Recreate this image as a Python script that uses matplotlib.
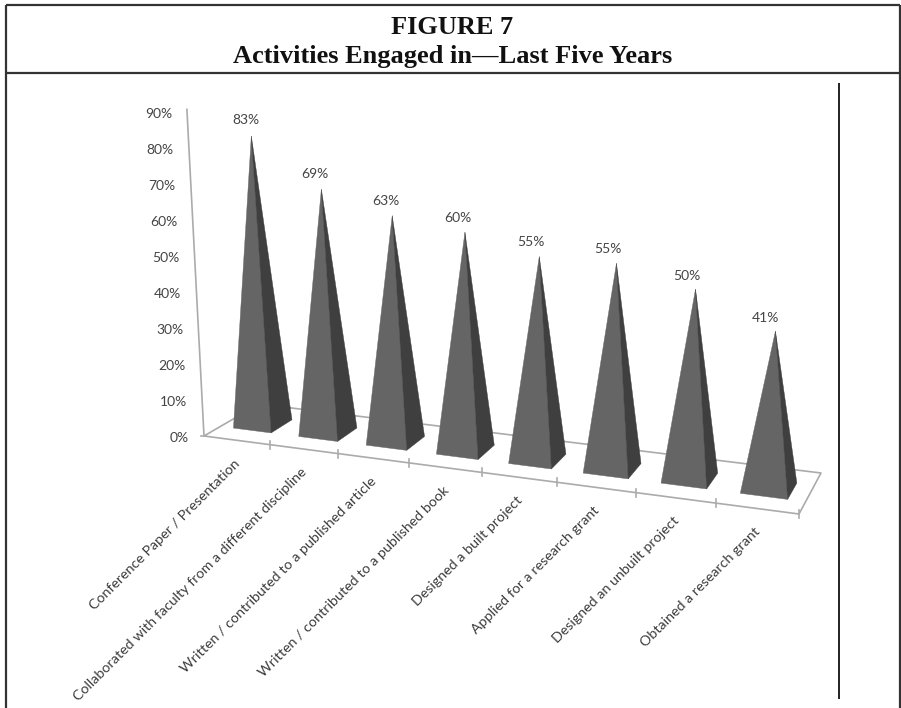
import matplotlib
matplotlib.use("Agg")
import matplotlib.pyplot as plt
import numpy as np

categories = [
    "Conference Paper / Presentation",
    "Collaborated with faculty from a different discipline",
    "Written / contributed to a published article",
    "Written / contributed to a published book",
    "Designed a built project",
    "Applied for a research grant",
    "Designed an unbuilt project",
    "Obtained a research grant",
]
values = [83, 69, 63, 60, 55, 55, 50, 41]
y_ticks = [0, 10, 20, 30, 40, 50, 60, 70, 80, 90]
title_lines = ["FIGURE 7", "Activities Engaged in\u2014Last Five Years"]

# pixel layout of the tilted 3d floor
front_x = np.array([204, 270, 338, 409, 482, 557, 636, 716, 799])
FL = np.array([204.0, 436.0])
FR = np.array([799.0, 514.0])
BL = np.array([259.0, 404.0])
BR = np.array([821.0, 473.0])

fig = plt.figure(figsize=(9.01, 7.08), dpi=100)
ax = fig.add_axes([0, 0, 1, 1])
ax.set_xlim(0, 901)
ax.set_ylim(708, 0)
ax.axis("off")


def floor(u, w):
    # u = category position, w = depth (0 front, 1 back)
    t = (np.interp(u, np.arange(len(front_x)), front_x) - FL[0]) / (FR[0] - FL[0])
    front = FL + (FR - FL) * t
    back = BL + (BR - BL) * t
    return front + (back - front) * w


def axis_point(v):
    return FL + np.array([-0.19, -3.63]) * v


# page frame
line_kw = dict(color="#333333", lw=1.6, solid_capstyle="butt")
ax.plot([5.5, 900], [5, 5], **line_kw)
ax.plot([5.5, 900], [72.5, 72.5], **line_kw)
ax.plot([5.5, 5.5], [5, 708], **line_kw)
ax.plot([900, 900], [5, 708], **line_kw)
ax.plot([839, 839], [83, 699], color="#111111", lw=1.3, solid_capstyle="butt")

ax.text(452.5, 34, title_lines[0], family="Liberation Serif", weight="bold",
        size=19, ha="center", va="baseline", color="#111111")
ax.text(452.5, 63, title_lines[1], family="Liberation Serif", weight="bold",
        size=19, ha="center", va="baseline", color="#111111")

# axes lines
grey = "#ababab"
top = axis_point(y_ticks[-1])
ax.plot([FL[0], top[0]], [FL[1], top[1]], color=grey, lw=1.2, zorder=1)
ax.plot([FL[0], FR[0], BR[0], BL[0], FL[0]], [FL[1], FR[1], BR[1], BL[1], FL[1]],
        color=grey, lw=1.2, zorder=1)
ax.plot([FL[0] - 3, FL[0]], [FL[1], FL[1]], color=grey, lw=1.2, zorder=1)
for i in range(1, len(front_x)):
    p = floor(i, 0)
    ax.plot([p[0], p[0]], [p[1] - 4, p[1] + 4], color=grey, lw=1.2, zorder=1)

for v in y_ticks:
    p = axis_point(v)
    ax.text(p[0] - 15, p[1] + 2 + 0.025 * v, "%d%%" % v, family="Lato", size=10,
            color="#444444", ha="right", va="center")

# pyramids
for i, v in enumerate(values):
    a = floor(i + 0.2, 0.3)
    b = floor(i + 0.78, 0.3)
    c = floor(i + 0.78, 0.7)
    centre = floor(i + 0.49, 0.5)
    lean = -0.14 + 0.043 * i
    scale = 3.47 + 0.052 * i
    apex = centre + np.array([lean, -scale]) * v
    ax.fill([a[0], b[0], apex[0]], [a[1], b[1], apex[1]], color="#656565", lw=0.3, zorder=3)
    ax.fill([b[0], c[0], apex[0]], [b[1], c[1], apex[1]], color="#3f3f3f", lw=0.3, zorder=3)
    ax.text(apex[0] - 5.5 - 0.6 * i, apex[1] - 15.5 + 0.35 * i, "%d%%" % v, family="Lato",
            size=10, color="#444444", ha="center", va="center")

# category labels
for i, name in enumerate(categories):
    p = floor(i + 0.5, 0)
    ax.text(p[0] + 1, p[1] + 21, name, family="Lato", size=10.3, color="#3c3c3c",
            rotation=45, rotation_mode="anchor", ha="right", va="center")

plt.savefig("out.png", dpi=100)
